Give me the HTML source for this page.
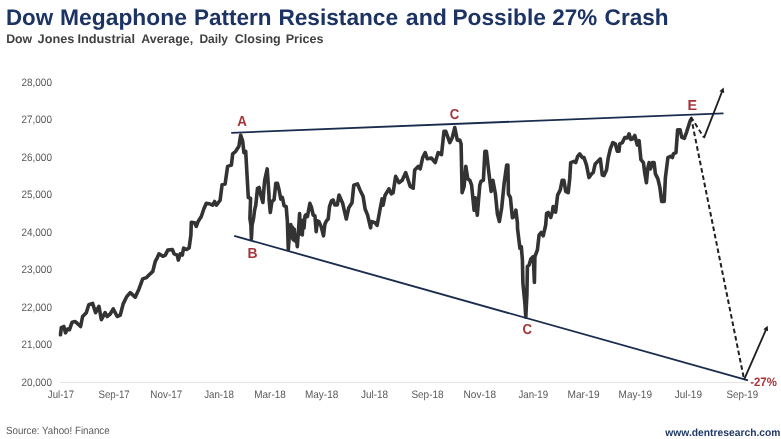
<!DOCTYPE html>
<html><head><meta charset="utf-8"><title>Dow Megaphone Pattern</title>
<style>
html,body{margin:0;padding:0;background:#fff;}
body{width:781px;height:439px;overflow:hidden;position:relative;font-family:"Liberation Sans",Arial,sans-serif;}
svg{position:absolute;left:0;top:0;display:block;}
text{font-family:"Liberation Sans",Arial,sans-serif;white-space:pre;text-rendering:geometricPrecision;}
.ax{fill:#595959;}
.lb{font-weight:bold;fill:#a8343a;}
.title{font-weight:bold;fill:#1c3363;}
.sub{font-weight:bold;fill:#404040;}
.src{fill:#595959;}
.url{font-weight:bold;fill:#1f3864;}
</style></head>
<body>
<svg width="781" height="439" viewBox="0 0 781 439">
<rect x="0" y="0" width="781" height="439" fill="#ffffff"/>
<text y="25.0" class="title" font-size="22.7"><tspan x="6.00" textLength="47.12" lengthAdjust="spacingAndGlyphs">Dow</tspan> <tspan x="60.07" textLength="126.79" lengthAdjust="spacingAndGlyphs">Megaphone</tspan> <tspan x="193.99" textLength="77.49" lengthAdjust="spacingAndGlyphs">Pattern</tspan> <tspan x="278.38" textLength="119.68" lengthAdjust="spacingAndGlyphs">Resistance</tspan> <tspan x="405.84" textLength="41.14" lengthAdjust="spacingAndGlyphs">and</tspan> <tspan x="452.48" textLength="93.38" lengthAdjust="spacingAndGlyphs">Possible</tspan> <tspan x="552.30" textLength="44.92" lengthAdjust="spacingAndGlyphs">27%</tspan> <tspan x="604.59" textLength="64.00" lengthAdjust="spacingAndGlyphs">Crash</tspan></text>
<text y="43.0" class="sub" font-size="12.5"><tspan x="6.13" textLength="26.03" lengthAdjust="spacingAndGlyphs">Dow</tspan> <tspan x="37.60" textLength="36.82" lengthAdjust="spacingAndGlyphs">Jones</tspan> <tspan x="77.40" textLength="57.55" lengthAdjust="spacingAndGlyphs">Industrial</tspan> <tspan x="141.31" textLength="51.82" lengthAdjust="spacingAndGlyphs">Average,</tspan> <tspan x="199.45" textLength="28.57" lengthAdjust="spacingAndGlyphs">Daily</tspan> <tspan x="234.81" textLength="45.89" lengthAdjust="spacingAndGlyphs">Closing</tspan> <tspan x="285.71" textLength="37.90" lengthAdjust="spacingAndGlyphs">Prices</tspan></text>
<line x1="60" y1="382.5" x2="746" y2="382.5" stroke="#e4e4e4" stroke-width="1"/>
<text x="21.53" y="86.3" class="ax" font-size="10.8" textLength="30.41" lengthAdjust="spacingAndGlyphs">28,000</text>
<text x="21.53" y="123.3" class="ax" font-size="10.8" textLength="30.41" lengthAdjust="spacingAndGlyphs">27,000</text>
<text x="21.53" y="161.3" class="ax" font-size="10.8" textLength="30.41" lengthAdjust="spacingAndGlyphs">26,000</text>
<text x="21.53" y="198.3" class="ax" font-size="10.8" textLength="30.41" lengthAdjust="spacingAndGlyphs">25,000</text>
<text x="21.53" y="236.3" class="ax" font-size="10.8" textLength="30.41" lengthAdjust="spacingAndGlyphs">24,000</text>
<text x="21.53" y="273.3" class="ax" font-size="10.8" textLength="30.41" lengthAdjust="spacingAndGlyphs">23,000</text>
<text x="21.53" y="311.3" class="ax" font-size="10.8" textLength="30.41" lengthAdjust="spacingAndGlyphs">22,000</text>
<text x="21.53" y="348.3" class="ax" font-size="10.8" textLength="30.41" lengthAdjust="spacingAndGlyphs">21,000</text>
<text x="21.53" y="386.3" class="ax" font-size="10.8" textLength="30.41" lengthAdjust="spacingAndGlyphs">20,000</text>
<text x="47.85" y="397.5" class="ax" font-size="10.8" textLength="26.24" lengthAdjust="spacingAndGlyphs">Jul-17</text>
<text x="98.40" y="397.5" class="ax" font-size="10.8" textLength="31.40" lengthAdjust="spacingAndGlyphs">Sep-17</text>
<text x="150.33" y="397.5" class="ax" font-size="10.8" textLength="31.87" lengthAdjust="spacingAndGlyphs">Nov-17</text>
<text x="204.15" y="397.5" class="ax" font-size="10.8" textLength="29.75" lengthAdjust="spacingAndGlyphs">Jan-18</text>
<text x="254.22" y="397.5" class="ax" font-size="10.8" textLength="31.58" lengthAdjust="spacingAndGlyphs">Mar-18</text>
<text x="304.92" y="397.5" class="ax" font-size="10.8" textLength="33.39" lengthAdjust="spacingAndGlyphs">May-18</text>
<text x="360.94" y="397.5" class="ax" font-size="10.8" textLength="27.26" lengthAdjust="spacingAndGlyphs">Jul-18</text>
<text x="411.39" y="397.5" class="ax" font-size="10.8" textLength="32.22" lengthAdjust="spacingAndGlyphs">Sep-18</text>
<text x="463.61" y="397.5" class="ax" font-size="10.8" textLength="32.39" lengthAdjust="spacingAndGlyphs">Nov-18</text>
<text x="518.45" y="397.5" class="ax" font-size="10.8" textLength="29.75" lengthAdjust="spacingAndGlyphs">Jan-19</text>
<text x="567.41" y="397.5" class="ax" font-size="10.8" textLength="32.21" lengthAdjust="spacingAndGlyphs">Mar-19</text>
<text x="618.62" y="397.5" class="ax" font-size="10.8" textLength="33.39" lengthAdjust="spacingAndGlyphs">May-19</text>
<text x="674.74" y="397.5" class="ax" font-size="10.8" textLength="27.26" lengthAdjust="spacingAndGlyphs">Jul-19</text>
<text x="726.49" y="397.5" class="ax" font-size="10.8" textLength="31.60" lengthAdjust="spacingAndGlyphs">Sep-19</text>
<path d="M60.5,334.8 L61.3,327.7 L63.8,326.5 L65.5,332.8 L67.5,329.0 L69.5,329.7 L72.1,322.2 L75.1,321.5 L77.1,323.2 L80.6,326.5 L82.6,316.5 L86.3,312.7 L88.8,304.7 L92.6,303.4 L95.6,312.7 L98.9,306.4 L101.4,319.7 L105.1,312.7 L107.1,316.5 L110.2,314.0 L113.2,308.9 L117.2,316.5 L120.2,315.2 L123.2,303.9 L126.4,297.2 L130.2,292.7 L135.2,297.2 L139.0,288.9 L142.7,278.9 L146.5,277.6 L149.0,275.1 L152.8,271.4 L155.3,261.3 L157.3,257.6 L159.0,253.8 L162.8,256.3 L165.3,255.1 L167.8,250.1 L172.3,249.5 L174.1,253.8 L177.3,255.1 L178.3,260.1 L180.3,253.8 L182.3,255.1 L183.6,248.0 L186.6,249.5 L189.1,248.0 L190.9,235.0 L191.3,222.3 L194.6,222.8 L196.3,226.5 L198.1,221.5 L201.3,216.5 L203.8,209.0 L206.3,203.2 L210.1,204.0 L212.6,205.2 L214.6,201.5 L216.4,205.2 L220.1,200.2 L222.1,184.7 L225.1,183.9 L227.6,166.4 L231.4,165.1 L232.7,153.8 L235.7,151.3 L238.9,146.3 L240.7,135.0 L242.7,141.3 L243.9,152.6 L245.7,151.3 L248.3,197.5 L250.6,198.5 L249.9,218.5 L250.9,225 L251.4,238.6 L252.1,225 L253.6,218 L254.6,210 L255.8,205.0 L257.5,188.3 L259.1,187.5 L260.8,195.0 L262.9,202.5 L264.1,186.7 L264.7,180.2 L267.2,168.9 L269.0,195.2 L269.1,200.0 L270.3,212.5 L271.9,201.6 L274.1,199.6 L275.8,183.3 L277.4,183.3 L279.1,190.0 L280.8,199.1 L282.4,197.5 L284.1,205.8 L286.2,206.6 L287.4,221.6 L288.3,249.6 L289.6,232 L290.8,224.5 L291.6,238 L292.4,227 L293.3,240 L294.2,229 L295.3,241 L296.2,236 L297.3,246.6 L298.4,232 L299.6,213.5 L300.6,234 L301.5,222 L302.3,235 L303.2,220 L304,228 L305,216 L305.7,215.0 L307.4,216.6 L309.9,203.3 L311.5,207.5 L313.2,215.0 L314.9,215.8 L316.2,231.6 L317.4,220.8 L319.0,221.6 L321.2,226.6 L323.5,235.8 L324.9,224.1 L326.5,220.8 L328.2,219.1 L329.5,206.6 L331.5,200.8 L333.2,200.0 L334.8,205.0 L337.3,205.0 L339.0,195.0 L341.5,200.8 L342.5,202.7 L346.3,219.0 L348.8,207.7 L352.0,202.7 L353.8,185.2 L357.5,183.9 L360.1,190.2 L363.1,196.4 L365.1,209.0 L367.6,215.2 L370.6,227.8 L371.3,221.5 L375.1,222.8 L377.1,225.3 L380.1,209.0 L382.1,198.9 L383.1,205.2 L385.1,195.2 L388.9,188.9 L391.4,193.9 L393.1,192.7 L395.6,176.4 L398.9,182.7 L402.2,180.2 L405.7,172.6 L408.2,180.2 L410.2,186.4 L413.2,188.2 L414.7,170.1 L418.2,166.4 L420.2,168.9 L422.7,157.6 L425.2,152.6 L427.2,158.8 L431.5,158.1 L435.2,162.6 L438.2,152.6 L441.5,154.6 L444.0,131.3 L445.8,131.3 L449.8,142.6 L452.3,137.5 L454.8,127.5 L457.3,140.1 L459.8,140.1 L461.1,143.8 L462.1,192.7 L464.1,186.4 L465.8,166.4 L467.8,178.9 L469.8,180.2 L471.6,185.2 L474.1,210.2 L475.3,197.7 L477.3,215.2 L479.8,185.2 L480.9,181.4 L483.4,180.2 L484.9,151.3 L486.4,151.3 L488.4,168.9 L491.1,191.4 L492.9,180.2 L495.4,193.9 L497.4,214.0 L499.4,221.5 L501.7,207.7 L504.2,182.7 L506.7,165.1 L507.9,165.1 L508.4,193.9 L510.4,197.7 L512.4,217.7 L514.2,216.5 L515.9,210.2 L517.4,222.8 L517.5,228.3 L519.9,248.3 L521.3,246.6 L522.4,259.9 L522.9,283.1 L524.9,303.3 L525.8,317.1 L526.9,295.0 L527.4,266.6 L529.1,264.9 L530.8,259.1 L533.3,256.6 L534.4,282.5 L534.9,256.6 L537.4,249.9 L539.1,235.0 L541.3,232.5 L543.2,235.8 L545.7,225.0 L546.6,213.3 L548.2,212.5 L550.7,217.5 L552.4,211.7 L553.1,206.5 L555.6,212.2 L557.6,195.2 L560.2,190.2 L562.2,180.2 L563.9,180.2 L565.7,191.4 L568.2,192.7 L569.7,178.9 L570.7,162.6 L573.9,161.4 L575.7,162.6 L577.7,156.3 L579.7,153.8 L582.2,157.6 L584.0,157.6 L586.5,165.1 L589.0,177.6 L591.5,173.9 L593.2,172.6 L595.2,163.9 L597.7,161.4 L600.3,158.8 L602.3,175.1 L604.0,175.6 L606.5,170.1 L608.3,157.6 L610.3,148.8 L612.8,142.6 L615.3,143.8 L617.3,151.3 L619.0,151.3 L619.8,143.8 L622.3,142.6 L624.8,137.5 L627.3,138.0 L629.1,133.8 L630.8,139.5 L632.8,138.8 L634.8,135.5 L637.3,145.1 L639.1,140.6 L640.9,159.6 L643.4,162.6 L644.9,173.9 L646.4,182.7 L647.9,167.6 L649.1,162.6 L650.4,168.9 L652.4,162.6 L654.1,162.6 L655.4,173.9 L657.9,178.9 L659.9,187.7 L661.7,201.5 L664.2,201.5 L665.4,177.6 L667.9,157.6 L670.4,156.3 L672.4,157.6 L673.4,153.8 L675.9,152.6 L676.0,152.4 L677.6,129.9 L680.1,129.9 L681.8,137.4 L684.3,138.3 L686.8,131.6 L689.6,122.4 L690.6,119.9" fill="none" stroke="#333333" stroke-width="3.6" stroke-linejoin="round" stroke-linecap="round"/>
<line x1="231.2" y1="132.8" x2="723.5" y2="113.3" stroke="#1b2d4e" stroke-width="1.85"/>
<line x1="234.2" y1="235.8" x2="748" y2="380.4" stroke="#1b2d4e" stroke-width="1.85"/>
<path d="M691,117 L703.8,137.3" fill="none" stroke="#1f1f24" stroke-width="1.9" stroke-dasharray="4.5 3"/>
<path d="M691,117 L744,379" fill="none" stroke="#1f1f24" stroke-width="2" stroke-dasharray="4.6 2.85"/>
<path d="M704.2,137.3 L722.18,91.23" fill="none" stroke="#1f1f24" stroke-width="1.85" stroke-linecap="round"/><path d="M723.6,87.6 L724.24,93.11 L719.40,91.22 Z" fill="#1f1f24"/>
<path d="M744.3,379.2 L766.13,329.37" fill="none" stroke="#1f1f24" stroke-width="1.85" stroke-linecap="round"/><path d="M767.7,325.8 L768.11,331.33 L763.35,329.24 Z" fill="#1f1f24"/>
<text x="237.29" y="125.8" class="lb" font-size="14.5" textLength="9.66" lengthAdjust="spacingAndGlyphs">A</text>
<text x="247.43" y="257.5" class="lb" font-size="14.5" textLength="10.05" lengthAdjust="spacingAndGlyphs">B</text>
<text x="449.79" y="118.5" class="lb" font-size="14.5" textLength="9.46" lengthAdjust="spacingAndGlyphs">C</text>
<text x="522.59" y="334" class="lb" font-size="14.5" textLength="9.46" lengthAdjust="spacingAndGlyphs">C</text>
<text x="687.60" y="110.3" class="lb" font-size="14.5" textLength="9.58" lengthAdjust="spacingAndGlyphs">E</text>
<text x="750.24" y="385.7" class="lb" font-size="12.2" textLength="26.62" lengthAdjust="spacingAndGlyphs">-27%</text>
<text x="6.00" y="434.2" class="src" font-size="10.5" textLength="103.60" lengthAdjust="spacingAndGlyphs">Source: Yahoo! Finance</text>
<text x="665.36" y="436.3" class="url" font-size="10.5" textLength="115.07" lengthAdjust="spacingAndGlyphs">www.dentresearch.com</text>
</svg>
</body></html>
